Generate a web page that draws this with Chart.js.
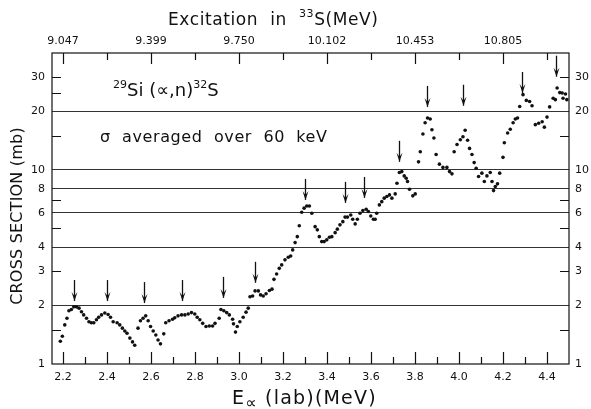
<!DOCTYPE html>
<html>
<head>
<meta charset="utf-8">
<script src="https://cdn.jsdelivr.net/npm/chart.js@4.4.1/dist/chart.umd.min.js"></script>
<style>
  html, body { margin: 0; padding: 0; background: #fff; }
  canvas { display: block; }
</style>
</head>
<body>
<canvas id="chart" width="591" height="409"></canvas>
<script>
// Alpha energy (lab, MeV) and cross section (mb)
var energies = [
  2.188, 2.197, 2.208, 2.218, 2.227, 2.238, 2.249, 2.261, 2.273, 2.284,
  2.294, 2.307, 2.318, 2.329, 2.340, 2.352, 2.362, 2.375, 2.390, 2.405,
  2.416, 2.428, 2.446, 2.458, 2.470, 2.481, 2.491, 2.504, 2.516, 2.526,
  2.541, 2.552, 2.564, 2.576, 2.587, 2.598, 2.610, 2.622, 2.632, 2.643,
  2.658, 2.667, 2.682, 2.698, 2.708, 2.723, 2.739, 2.754, 2.769, 2.784,
  2.799, 2.810, 2.822, 2.835, 2.850, 2.865, 2.880, 2.891, 2.910, 2.918,
  2.931, 2.944, 2.956, 2.971, 2.975, 2.984, 2.992, 3.004, 3.019, 3.032,
  3.042, 3.050, 3.062, 3.073, 3.088, 3.098, 3.110, 3.123, 3.138, 3.150,
  3.159, 3.171, 3.183, 3.194, 3.209, 3.224, 3.235, 3.244, 3.255, 3.265,
  3.274, 3.285, 3.296, 3.308, 3.320, 3.331, 3.346, 3.356, 3.365, 3.376,
  3.387, 3.399, 3.411, 3.422, 3.437, 3.447, 3.459, 3.472, 3.482, 3.493,
  3.508, 3.517, 3.528, 3.538, 3.550, 3.563, 3.578, 3.588, 3.599, 3.611,
  3.619, 3.626, 3.638, 3.649, 3.660, 3.672, 3.684, 3.695, 3.710, 3.718,
  3.729, 3.740, 3.751, 3.760, 3.766, 3.775, 3.790, 3.801, 3.816, 3.824,
  3.836, 3.846, 3.857, 3.869, 3.877, 3.886, 3.896, 3.911, 3.927, 3.945,
  3.957, 3.968, 3.978, 3.991, 4.006, 4.018, 4.028, 4.039, 4.048, 4.059,
  4.069, 4.078, 4.089, 4.104, 4.115, 4.127, 4.142, 4.150, 4.157, 4.165,
  4.175, 4.185, 4.200, 4.206, 4.221, 4.233, 4.246, 4.256, 4.266, 4.276,
  4.291, 4.306, 4.321, 4.332, 4.347, 4.362, 4.378, 4.388, 4.400, 4.412,
  4.428, 4.438, 4.446, 4.458, 4.469, 4.473, 4.484, 4.490
];
var sigma = [
  1.31, 1.39, 1.59, 1.72, 1.88, 1.91, 1.97, 1.97, 1.94, 1.86,
  1.79, 1.72, 1.65, 1.63, 1.63, 1.69, 1.74, 1.79, 1.83, 1.80,
  1.74, 1.65, 1.63, 1.59, 1.53, 1.48, 1.44, 1.36, 1.30, 1.25,
  1.53, 1.67, 1.72, 1.77, 1.67, 1.56, 1.48, 1.41, 1.33, 1.27,
  1.43, 1.63, 1.67, 1.70, 1.73, 1.77, 1.79, 1.79, 1.81, 1.84,
  1.81, 1.74, 1.69, 1.62, 1.56, 1.57, 1.57, 1.62, 1.72, 1.91,
  1.88, 1.84, 1.79, 1.70, 1.61, 1.46, 1.56, 1.65, 1.74, 1.85,
  1.94, 2.22, 2.24, 2.38, 2.38, 2.27, 2.24, 2.30, 2.39, 2.43,
  2.73, 2.91, 3.11, 3.24, 3.44, 3.55, 3.60, 3.87, 4.22, 4.53,
  5.15, 6.05, 6.35, 6.52, 6.52, 5.98, 5.10, 4.91, 4.53, 4.27,
  4.27, 4.36, 4.50, 4.53, 4.75, 4.95, 5.21, 5.41, 5.71, 5.71,
  5.86, 5.57, 5.27, 5.57, 5.98, 6.17, 6.27, 6.10, 5.79, 5.57,
  5.57, 5.98, 6.60, 6.86, 7.15, 7.29, 7.43, 7.15, 7.52, 8.54,
  9.69, 9.80, 9.31, 9.06, 8.71, 7.95, 7.35, 7.52, 11.0, 12.4,
  15.3, 17.5, 18.5, 18.3, 16.1, 14.6, 12.0, 10.7, 10.3, 10.3,
  9.80, 9.54, 12.4, 13.5, 14.3, 14.8, 16.0, 14.2, 12.9, 12.0,
  10.9, 10.2, 9.24, 9.62, 8.71, 9.31, 9.69, 8.71, 7.82, 8.20,
  8.47, 9.62, 11.6, 13.8, 15.5, 16.2, 17.5, 18.3, 18.5, 21.2,
  24.4, 22.8, 22.5, 21.4, 17.1, 17.4, 17.7, 16.6, 18.7, 21.1,
  23.4, 23.0, 26.4, 25.0, 24.9, 23.4, 24.6, 23.0
];

// Resonance arrows: energy and the cross section at the arrow tip
var arrowE = [2.252, 2.402, 2.570, 2.740, 2.927, 3.071, 3.300, 3.484, 3.570, 3.726, 3.855, 4.020, 4.288, 4.440];
var arrowTip = [2.11, 2.11, 2.06, 2.11, 2.19, 2.62, 7.00, 6.76, 7.17, 11.0, 21.1, 21.4, 24.9, 30.2];

// Axes
var xTicks = [2.2, 2.3, 2.4, 2.5, 2.6, 2.7, 2.8, 2.9, 3.0, 3.1, 3.2, 3.3, 3.4, 3.5, 3.6, 3.7, 3.8, 3.9, 4.0, 4.1, 4.2, 4.3, 4.4];
var xLabelTicks = [2.2, 2.4, 2.6, 2.8, 3.0, 3.2, 3.4, 3.6, 3.8, 4.0, 4.2, 4.4];
var topTicks = [2.2, 2.4, 2.6, 2.8, 3.0, 3.2, 3.4, 3.6, 3.8, 4.0, 4.2, 4.4];
var topLabelTicks = [2.2, 2.6, 3.0, 3.4, 3.8, 4.2];
var topLabels = ['9.047', '9.399', '9.750', '10.102', '10.453', '10.805'];
var yTicks = [1, 2, 3, 4, 6, 8, 10, 20, 30];
var yLines = [2, 4, 6, 8, 10, 20];
var yMarksLeft = [1.5, 3, 5, 7, 15, 25, 30];
var yMarksRight = [1.5, 3, 5, 7, 15, 30];

var FONT = '"DejaVu Sans", sans-serif';

function near(list, v) {
  for (var i = 0; i < list.length; i++) {
    if (Math.abs(list[i] - v) < 1e-6) return true;
  }
  return false;
}

function drawRuns(ctx, runs, x, y, spacing) {
  var cx = x;
  ctx.letterSpacing = (spacing || 0) + 'px';
  runs.forEach(function (r) {
    ctx.font = r.size + 'px ' + FONT;
    ctx.fillText(r.text, cx, y + (r.dy || 0));
    cx += ctx.measureText(r.text).width;
  });
  ctx.letterSpacing = '0px';
}

var decor = {
  id: 'decor',
  afterDatasetsDraw: function (chart) {
    var ctx = chart.ctx;
    var a = chart.chartArea;
    var xs = chart.scales.x;
    var ys = chart.scales.y;
    ctx.save();
    ctx.strokeStyle = '#111';
    ctx.fillStyle = '#111';
    ctx.lineWidth = 1.2;

    // frame
    ctx.strokeRect(a.left, a.top, a.right - a.left, a.bottom - a.top);

    // inward tick marks
    ctx.beginPath();
    xTicks.forEach(function (v) {
      var px = Math.round(xs.getPixelForValue(v)) + 0.5;
      var len = near(xLabelTicks, v) ? 12 : 7;
      ctx.moveTo(px, a.bottom);
      ctx.lineTo(px, a.bottom - len);
    });
    topTicks.forEach(function (v) {
      var px = Math.round(xs.getPixelForValue(v)) + 0.5;
      var len = near(topLabelTicks, v) ? 11 : 7;
      ctx.moveTo(px, a.top);
      ctx.lineTo(px, a.top + len);
    });
    yMarksLeft.forEach(function (v) {
      var py = Math.round(ys.getPixelForValue(v)) + 0.5;
      ctx.moveTo(a.left, py);
      ctx.lineTo(a.left + 9, py);
    });
    yMarksRight.forEach(function (v) {
      var py = Math.round(ys.getPixelForValue(v)) + 0.5;
      ctx.moveTo(a.right, py);
      ctx.lineTo(a.right - 9, py);
    });
    ctx.stroke();

    // resonance arrows
    ctx.lineWidth = 1.3;
    arrowE.forEach(function (e, i) {
      var px = Math.round(xs.getPixelForValue(e)) + 0.5;
      var tip = ys.getPixelForValue(arrowTip[i]);
      ctx.beginPath();
      ctx.moveTo(px, tip - 21);
      ctx.lineTo(px, tip);
      ctx.stroke();
      ctx.beginPath();
      ctx.moveTo(px - 3, tip - 9);
      ctx.lineTo(px, tip);
      ctx.lineTo(px + 3, tip - 9);
      ctx.lineTo(px, tip - 5);
      ctx.closePath();
      ctx.fill();
    });

    // titles and annotations
    ctx.textBaseline = 'alphabetic';
    ctx.textAlign = 'left';
    drawRuns(ctx, [
      { text: 'Excitation  in  ', size: 17 },
      { text: '33', size: 11, dy: -8 },
      { text: 'S(MeV)', size: 17 }
    ], 168, 25, 0.6);

    drawRuns(ctx, [
      { text: '29', size: 11, dy: -8 },
      { text: 'Si (\u221D,n)', size: 18 },
      { text: '32', size: 11, dy: -8 },
      { text: 'S', size: 18 }
    ], 113, 96, 0);

    drawRuns(ctx, [
      { text: '\u03C3  averaged  over  60  keV', size: 16 }
    ], 100, 142, 0.6);

    drawRuns(ctx, [
      { text: 'E', size: 19 },
      { text: '\u221D', size: 16, dy: 4 },
      { text: ' (lab)(MeV)', size: 19 }
    ], 232, 404, 1.2);

    ctx.save();
    ctx.translate(18, 216);
    ctx.rotate(-Math.PI / 2);
    ctx.textAlign = 'center';
    ctx.textBaseline = 'middle';
    ctx.font = '16px ' + FONT;
    ctx.letterSpacing = '0.2px';
    ctx.fillText('CROSS SECTION (mb)', 0, 0);
    ctx.restore();

    ctx.restore();
  }
};

var points = energies.map(function (e, i) {
  return { x: e, y: sigma[i] };
});

var tickFont = { family: FONT, size: 11 };

new Chart(document.getElementById('chart'), {
  type: 'scatter',
  data: {
    datasets: [{
      data: points,
      pointRadius: 1.8,
      pointBackgroundColor: '#111',
      pointBorderWidth: 0,
      showLine: false
    }]
  },
  options: {
    responsive: false,
    animation: false,
    events: [],
    layout: { padding: 0 },
    plugins: {
      legend: { display: false },
      tooltip: { enabled: false }
    },
    scales: {
      x: {
        type: 'linear',
        position: 'bottom',
        min: 2.15,
        max: 4.5,
        afterBuildTicks: function (scale) {
          scale.ticks = xLabelTicks.map(function (v) { return { value: v }; });
        },
        afterFit: function (scale) { scale.height = 45; },
        grid: { display: false, drawTicks: false },
        border: { display: false },
        ticks: {
          autoSkip: false,
          maxRotation: 0,
          padding: 7,
          color: '#111',
          font: tickFont,
          callback: function (v) { return v.toFixed(1); }
        }
      },
      x2: {
        type: 'linear',
        position: 'top',
        min: 2.15,
        max: 4.5,
        afterBuildTicks: function (scale) {
          scale.ticks = topLabelTicks.map(function (v) { return { value: v }; });
        },
        afterFit: function (scale) { scale.height = 53; },
        grid: { display: false, drawTicks: false },
        border: { display: false },
        ticks: {
          autoSkip: false,
          maxRotation: 0,
          padding: 5,
          color: '#111',
          font: tickFont,
          callback: function (v, i) { return topLabels[i]; }
        }
      },
      y: {
        type: 'logarithmic',
        position: 'left',
        min: 1,
        max: 40,
        afterBuildTicks: function (scale) {
          scale.ticks = yTicks.map(function (v) { return { value: v }; });
        },
        afterFit: function (scale) { scale.width = 52; },
        grid: {
          drawTicks: false,
          lineWidth: 1.1,
          color: function (c) {
            return c.tick && near(yLines, c.tick.value) ? '#333' : 'rgba(0,0,0,0)';
          }
        },
        border: { display: false },
        ticks: {
          autoSkip: false,
          padding: 7,
          color: '#111',
          font: tickFont,
          callback: function (v) { return String(v); }
        }
      },
      y2: {
        type: 'logarithmic',
        position: 'right',
        min: 1,
        max: 40,
        afterBuildTicks: function (scale) {
          scale.ticks = yTicks.map(function (v) { return { value: v }; });
        },
        afterFit: function (scale) { scale.width = 22; },
        grid: { display: false, drawTicks: false },
        border: { display: false },
        ticks: {
          autoSkip: false,
          padding: 6,
          color: '#111',
          font: tickFont,
          callback: function (v) { return String(v); }
        }
      }
    }
  },
  plugins: [decor]
});
</script>
</body>
</html>
